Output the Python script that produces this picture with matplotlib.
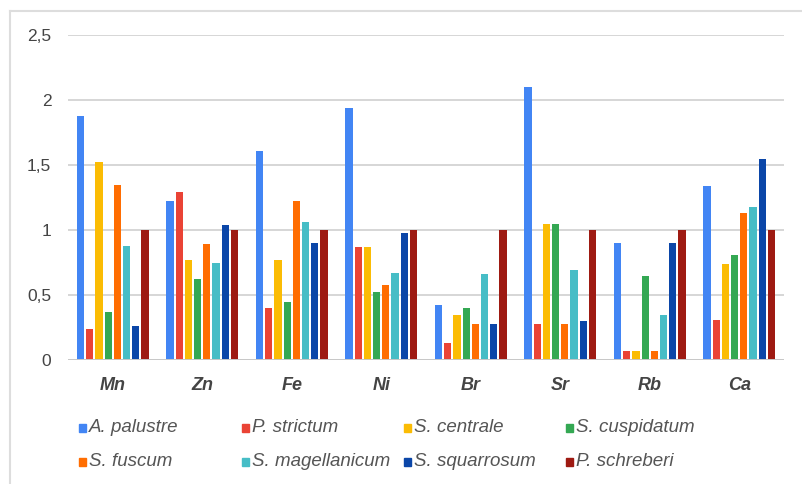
"""
Grouped bar chart: element ratios for eight moss species
"""
import numpy as np
import matplotlib.pyplot as plt
from matplotlib.lines import Line2D
from matplotlib.patches import Rectangle
from matplotlib.ticker import FuncFormatter

plt.rcParams['font.family'] = ['Liberation Sans', 'DejaVu Sans']

elements = ['Mn', 'Zn', 'Fe', 'Ni', 'Br', 'Sr', 'Rb', 'Ca']
species = ['A. palustre', 'P. strictum', 'S. centrale', 'S. cuspidatum',
           'S. fuscum', 'S. magellanicum', 'S. squarrosum', 'P. schreberi']
colors = ['#4285F4', '#EA4335', '#FBBC04', '#34A853',
          '#FF6D01', '#46BDC6', '#0B46A8', '#9E1A12']

a_palustre = [1.88, 1.22, 1.61, 1.94, 0.42, 2.10, 0.90, 1.34]
p_strictum = [0.24, 1.29, 0.40, 0.87, 0.13, 0.28, 0.07, 0.31]
s_centrale = [1.52, 0.77, 0.77, 0.87, 0.35, 1.05, 0.07, 0.74]
s_cuspidatum = [0.37, 0.62, 0.45, 0.52, 0.40, 1.05, 0.65, 0.81]
s_fuscum = [1.35, 0.89, 1.22, 0.58, 0.28, 0.28, 0.07, 1.13]
s_magellanicum = [0.88, 0.75, 1.06, 0.67, 0.66, 0.69, 0.35, 1.18]
s_squarrosum = [0.26, 1.04, 0.90, 0.98, 0.28, 0.30, 0.90, 1.55]
p_schreberi = [1.0, 1.0, 1.0, 1.0, 1.0, 1.0, 1.0, 1.0]

series = [a_palustre, p_strictum, s_centrale, s_cuspidatum,
          s_fuscum, s_magellanicum, s_squarrosum, p_schreberi]

W, H = 802, 484
fig = plt.figure(figsize=(W / 100, H / 100), dpi=100)
ax = fig.add_axes([68 / W, (H - 360) / H, 716 / W, 325 / H])

x = np.arange(len(elements))
slot = 0.103
for i, (vals, c) in enumerate(zip(series, colors)):
    ax.bar(x + (i - 3.5) * slot, vals, width=0.08, color=c, zorder=3)

ax.set_xlim(-0.5, 7.5)
ax.set_ylim(0, 2.5)
ax.set_yticks([0, 0.5, 1, 1.5, 2, 2.5])
ax.yaxis.set_major_formatter(FuncFormatter(lambda v, p: f'{v:g}'.replace('.', ',')))
ax.grid(axis='y', color='#d6d6d6', linewidth=1.4, zorder=0)
for s in ax.spines.values():
    s.set_visible(False)
ax.axhline(0, color='#c8c8c8', linewidth=1.4, zorder=4)
ax.tick_params(axis='y', length=0, pad=12, labelsize=12.5, labelcolor='#444444')
ax.tick_params(axis='x', length=0, pad=12)
ax.set_xticks(x)
ax.set_xticklabels(elements, fontsize=13, fontweight='bold', style='italic', color='#444444')

# legend, fixed column widths like the original
col_x = [82, 245, 407, 569]
row_y = [428, 462]
for i, (name, c) in enumerate(zip(species, colors)):
    cx = col_x[i % 4]
    cy = row_y[i // 4]
    fig.add_artist(Rectangle(((cx - 3) / W, (H - cy - 4) / H), 7 / W, 8 / H,
                             transform=fig.transFigure, color=c))
    fig.text((cx + 7) / W, (H - cy) / H, name, fontsize=13.5, style='italic',
             color='#555555', va='center', ha='left')

# light frame at top and left
fig.add_artist(Line2D([10 / W, 1], [1 - 11 / H, 1 - 11 / H], transform=fig.transFigure,
                      color='#dddddd', linewidth=1.5))
fig.add_artist(Line2D([10 / W, 10 / W], [0, 1 - 11 / H], transform=fig.transFigure,
                      color='#dddddd', linewidth=1.5))

fig.savefig('out.png', dpi=100)
